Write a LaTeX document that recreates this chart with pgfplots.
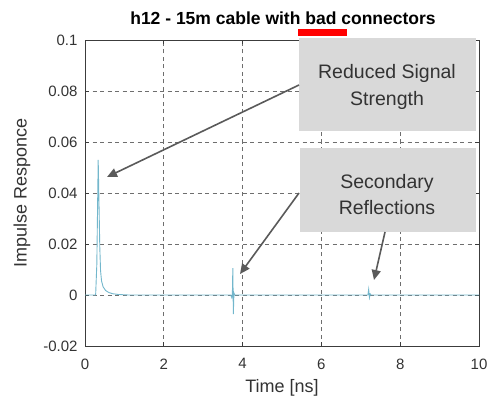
\documentclass[border=0pt]{standalone}
\usepackage{pgfplots}
\pgfplotsset{compat=1.18}
\usepackage{fontspec}
\setmainfont{Liberation Sans}
\usetikzlibrary{arrows.meta}
\definecolor{sig}{RGB}{115,183,204}
\definecolor{axc}{RGB}{60,60,60}
\definecolor{gridc}{RGB}{110,110,110}
\definecolor{boxc}{RGB}{217,217,217}
\definecolor{txtc}{RGB}{51,51,51}
\definecolor{arrc}{RGB}{90,90,90}
\begin{document}
\begin{tikzpicture}[x=1pt,y=1pt]
\useasboundingbox (0,0) rectangle (490,397);
\begin{axis}[
  at={(85pt,51pt)}, anchor=south west,
  scale only axis, width=394pt, height=306pt,
  xmin=0, xmax=10, ymin=-0.02, ymax=0.1,
  xtick={0,2,4,6,8,10}, ytick={-0.02,0,0.02,0.04,0.06,0.08,0.1},
  yticklabels={-0.02,0,0.02,0.04,0.06,0.08,0.1},
  xticklabels={0,2,4,6,8,10},
  grid=major,
  major grid style={gridc, dashed, dash pattern=on 4pt off 3.5pt, line width=0.7pt},
  axis line style={axc, line width=0.9pt},
  tick style={axc, line width=0.8pt},
  major tick length=4pt,
  tick align=inside,
  ticklabel style={font=\fontsize{15}{17}\selectfont, text=txtc},
  /pgf/number format/assume math mode=true,
  xticklabel style={yshift=-9pt},
  yticklabel style={xshift=-4pt},
  xlabel={Time [ns]},
  ylabel={Impulse Responce},
  label style={font=\fontsize{18}{20}\selectfont, text=txtc},
  xlabel style={at={(axis description cs:0.5,-0.137)}, anchor=center},
  ylabel style={at={(axis description cs:-0.16,0.5)}, anchor=center},
  clip=true,
]
\addplot[sig, line width=0.9pt] coordinates {
(0,0) (0.27,0) (0.30,0.012) (0.335,0.053) (0.355,0.036) (0.375,0.019) (0.395,0.0095)
(0.42,0.0055) (0.46,0.0032) (0.52,0.0018) (0.6,0.001) (0.7,0.0005) (0.85,0.0002) (1.1,0)
(3.70,0) (3.725,-0.001) (3.74,0) (3.752,0.0105) (3.765,-0.0075) (3.78,0.0008) (3.80,0)
(7.18,0) (7.20,0.0022) (7.22,-0.001) (7.24,0.0004) (7.26,0) (10,0)
};
\end{axis}
% title
\node[font=\fontsize{17.5}{20}\selectfont\bfseries, text=black] at (283,379) {h12 - 15m cable with bad connectors};
% red underline
\fill[red] (298,361) rectangle (347,367.5);
% annotation boxes
\fill[boxc] (299,266) rectangle (476,359);
\fill[boxc] (300,165) rectangle (476,249);
\node[font=\fontsize{19.5}{27}\selectfont, text=txtc, align=center] at (387,310.5) {Reduced Signal\\Strength};
\node[font=\fontsize{19.5}{26}\selectfont, text=txtc, align=center] at (387,202) {Secondary\\Reflections};
% arrows
\draw[arrc, line width=1.6pt, -{Triangle[length=10pt,width=9pt]}] (299,312) -- (107,220);
\draw[arrc, line width=1.6pt, -{Triangle[length=10pt,width=9pt]}] (299,204) -- (240,123);
\draw[arrc, line width=1.6pt, -{Triangle[length=10pt,width=9pt]}] (385,165) -- (374,117);
\end{tikzpicture}
\end{document}
